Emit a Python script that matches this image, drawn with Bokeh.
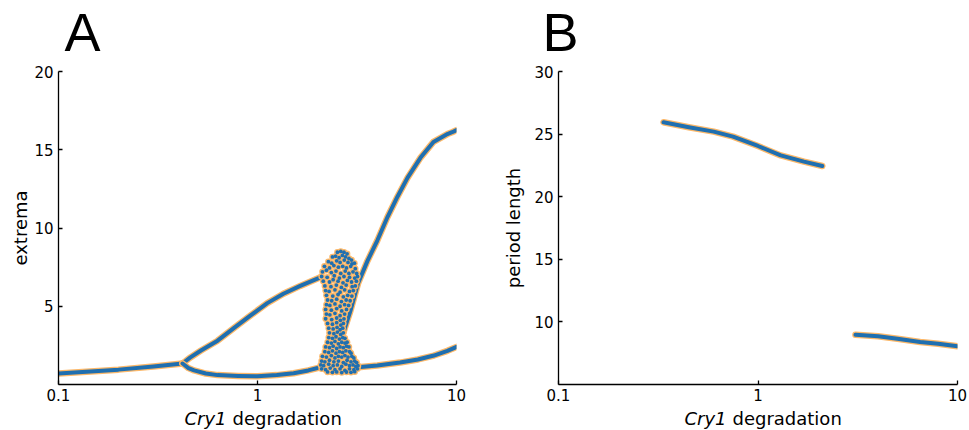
from bokeh.plotting import figure
from bokeh.layouts import row, column
from bokeh.models import Range1d, FixedTicker, CustomJSTickFormatter, Label
from bokeh.embed import file_html
from bokeh.resources import INLINE

# ---------------- data ----------------
# Panel A: extrema vs Cry1 degradation
steady_x = [0.1, 0.2, 0.3, 0.42]
steady_y = [0.7, 0.95, 1.15, 1.34]

left_max_x = [0.42, 0.46, 0.52, 0.63, 0.76, 0.92, 1.12, 1.35, 1.64, 2.07]
left_max_y = [1.34, 1.73, 2.17, 2.8, 3.6, 4.4, 5.2, 5.8, 6.3, 6.85]

left_min_x = [0.42, 0.45, 0.48, 0.55, 0.63, 0.8, 1.0, 1.25, 1.52, 1.8, 2.07]
left_min_y = [1.34, 1.05, 0.9, 0.7, 0.6, 0.55, 0.53, 0.6, 0.72, 0.9, 1.1]

right_max_x = [2.7, 2.93, 3.2, 3.57, 4.0, 4.5, 5.05, 5.67, 6.6, 7.66, 9.0, 9.5, 10.0]
right_max_y = [3.3, 4.7, 6.45, 7.9, 9.2, 10.7, 12.0, 13.2, 14.5, 15.5, 16.0, 16.12, 16.25]

right_min_x = [3.2, 4.0, 5.2, 6.4, 7.7, 9.0, 10.0]
right_min_y = [1.1, 1.22, 1.4, 1.6, 1.85, 2.15, 2.4]

cluster_pts = [
    (2.52, 8.45), (2.62, 8.5), (2.72, 8.45), (2.82, 8.35),
    (2.38, 8.15), (2.47, 8.2), (2.57, 8.1), (2.67, 8.25), (2.77, 8.15), (2.88, 8.05), (2.97, 7.95),
    (2.27, 7.85), (2.36, 7.75), (2.5, 7.9), (2.6, 7.8), (2.73, 7.95), (2.85, 7.8), (2.98, 7.7), (3.07, 7.75),
    (2.17, 7.55), (2.3, 7.45), (2.42, 7.6), (2.55, 7.5), (2.68, 7.55), (2.8, 7.45), (2.94, 7.55), (3.1, 7.4),
    (2.12, 7.2), (2.22, 7.3), (2.35, 7.15), (2.48, 7.25), (2.62, 7.1), (2.76, 7.25), (2.88, 7.1), (3.02, 7.2), (3.15, 7.1),
    (2.1, 6.9), (2.24, 6.85), (2.43, 6.95), (2.58, 6.8), (2.72, 6.9), (2.9, 6.85), (3.08, 6.8), (3.18, 6.9),
    (2.14, 6.6), (2.3, 6.55), (2.4, 6.7), (2.54, 6.6), (2.69, 6.5), (2.83, 6.65), (2.97, 6.55), (3.14, 6.6),
    (2.18, 6.3), (2.34, 6.25), (2.49, 6.35), (2.64, 6.2), (2.79, 6.35), (2.99, 6.25), (3.1, 6.3),
    (2.2, 6.0), (2.29, 5.95), (2.45, 6.05), (2.6, 5.9), (2.74, 6.05), (2.9, 5.95), (3.03, 6.0),
    (2.22, 5.7), (2.39, 5.65), (2.54, 5.75), (2.7, 5.6), (2.84, 5.7), (2.98, 5.65),
    (2.25, 5.4), (2.36, 5.35), (2.5, 5.45), (2.64, 5.3), (2.79, 5.4), (2.92, 5.35),
    (2.22, 5.1), (2.31, 5.05), (2.45, 5.15), (2.6, 5.0), (2.74, 5.1), (2.87, 5.05),
    (2.2, 4.8), (2.35, 4.75), (2.5, 4.85), (2.65, 4.7), (2.8, 4.8),
    (2.22, 4.5), (2.31, 4.45), (2.45, 4.55), (2.6, 4.4), (2.74, 4.5),
    (2.2, 4.2), (2.36, 4.15), (2.5, 4.25), (2.61, 4.1), (2.72, 4.2),
    (2.25, 3.9), (2.38, 3.85), (2.5, 3.95), (2.62, 3.8), (2.7, 3.9),
    (2.28, 3.6), (2.4, 3.55), (2.51, 3.65), (2.6, 3.5), (2.68, 3.6),
    (2.3, 3.3), (2.42, 3.25), (2.52, 3.35), (2.62, 3.2), (2.7, 3.3),
    (2.28, 3.0), (2.38, 2.95), (2.48, 3.05), (2.58, 2.9), (2.68, 3.0), (2.75, 2.95),
    (2.25, 2.7), (2.35, 2.65), (2.45, 2.75), (2.55, 2.6), (2.65, 2.7), (2.75, 2.65), (2.82, 2.7),
    (2.2, 2.4), (2.3, 2.35), (2.4, 2.45), (2.5, 2.3), (2.6, 2.4), (2.7, 2.35), (2.8, 2.45), (2.88, 2.4),
    (2.18, 2.1), (2.28, 2.05), (2.38, 2.15), (2.48, 2.0), (2.58, 2.1), (2.68, 2.05), (2.78, 2.15), (2.9, 2.1), (2.95, 2.0),
    (2.12, 1.8), (2.22, 1.75), (2.35, 1.85), (2.45, 1.7), (2.55, 1.8), (2.65, 1.75), (2.75, 1.85), (2.85, 1.75), (2.98, 1.8), (3.05, 1.7),
    (2.1, 1.5), (2.18, 1.45), (2.3, 1.55), (2.42, 1.45), (2.55, 1.5), (2.7, 1.4), (2.82, 1.55), (2.95, 1.45), (3.08, 1.5), (3.15, 1.4),
    (2.08, 1.25), (2.15, 1.2), (2.28, 1.3), (2.4, 1.2), (2.52, 1.25), (2.65, 1.15), (2.78, 1.3), (2.9, 1.2), (3.02, 1.25), (3.12, 1.15), (3.2, 1.2),
    (2.1, 1.0), (2.2, 0.95), (2.32, 1.05), (2.45, 0.95), (2.6, 1.0), (2.75, 0.9), (2.9, 1.0), (3.05, 0.95), (3.18, 1.0),
    (2.25, 0.8), (2.38, 0.78), (2.5, 0.8), (2.65, 0.76), (2.8, 0.8), (2.95, 0.78), (3.08, 0.82),
]
cluster_x = [p[0] for p in cluster_pts]
cluster_y = [p[1] for p in cluster_pts]

# Panel B: period length vs Cry1 degradation
period1_x = [0.336, 0.45, 0.6, 0.75, 1.0, 1.3, 1.7, 2.1]
period1_y = [25.95, 25.55, 25.2, 24.8, 24.05, 23.3, 22.8, 22.45]

period2_x = [3.08, 4.0, 5.0, 6.5, 8.0, 10.0]
period2_y = [8.97, 8.85, 8.65, 8.4, 8.25, 8.05]

x_ticks = [0.1, 1, 10]
a_yticks = [5, 10, 15, 20]
b_yticks = [10, 15, 20, 25, 30]

BLUE = "#1f6fb0"
ORANGE = "#fbb86a"
FONT = "DejaVu Sans"


def style(p, yticks, standoff):
    p.xaxis.ticker = FixedTicker(ticks=x_ticks)
    p.xaxis.formatter = CustomJSTickFormatter(code="return tick.toString()")
    p.yaxis.ticker = FixedTicker(ticks=yticks)
    for ax in (p.xaxis, p.yaxis):
        ax.major_tick_in = 4
        ax.major_tick_out = 0
        ax.minor_tick_line_color = None
        ax.major_label_text_font = FONT
        ax.major_label_text_font_size = "15px"
        ax.major_label_text_color = "black"
        ax.axis_line_color = "black"
        ax.axis_line_width = 1.3
        ax.major_tick_line_color = "black"
        ax.major_tick_line_width = 1.3
        ax.axis_label_text_font = FONT
        ax.axis_label_text_font_size = "18px"
        ax.axis_label_text_font_style = "normal"
        ax.axis_label_text_color = "black"
    p.xaxis.major_label_standoff = 4
    p.yaxis.major_label_standoff = 5
    p.yaxis.axis_label_standoff = standoff
    p.xgrid.visible = False
    p.ygrid.visible = False
    p.outline_line_color = None


def blank(width, height, x0, x1):
    # frame spans canvas pixels x0..x1 (aligned with the plot above), y measured from top
    f = figure(width=width, height=height, output_backend="svg", toolbar_location=None,
               title=None, x_range=Range1d(x0, x1), y_range=Range1d(height, 0),
               x_axis_location=None, y_axis_location=None, min_border=0)
    f.xgrid.visible = False
    f.ygrid.visible = False
    f.outline_line_color = None
    return f


def footer(width, x0, x1, xcenter):
    f = blank(width, 24, x0, x1)
    f.add_layout(Label(x=xcenter - 31, y=12, text="Cry1", text_font=FONT, text_font_size="18px",
                       text_font_style="italic", text_align="right", text_baseline="alphabetic",
                       text_color="black"))
    f.add_layout(Label(x=xcenter - 25, y=12, text="degradation", text_font=FONT,
                       text_font_size="18px", text_align="left", text_baseline="alphabetic",
                       text_color="black"))
    return f


def curve(p, xs, ys):
    p.line(xs, ys, line_color=ORANGE, line_width=6.5, line_cap="round", line_join="round")
    p.line(xs, ys, line_color=BLUE, line_width=4, line_cap="round", line_join="round")


# ---------------- header with panel letters ----------------
head = figure(width=969, height=64, output_backend="svg", toolbar_location=None, title=None,
              x_range=Range1d(0, 969), y_range=Range1d(64, 0),
              x_axis_location=None, y_axis_location=None, min_border=0)
head.xgrid.visible = False
head.ygrid.visible = False
head.outline_line_color = None
for letter, xpos in [("A", 64), ("B", 542)]:
    head.add_layout(Label(x=xpos, y=31, text=letter, text_font="Liberation Sans",
                          text_font_size="54px", text_baseline="alphabetic", text_color="black"))

# ---------------- Panel A ----------------
pA = figure(width=484, height=342, x_axis_type="log", output_backend="svg",
            toolbar_location=None, x_range=Range1d(0.1, 10), y_range=Range1d(0, 20),
            min_border_left=58, min_border_right=28, min_border_top=7, min_border_bottom=22)
style(pA, a_yticks, 0)
pA.yaxis.axis_label = "extrema"

for xs, ys in [(steady_x, steady_y), (left_max_x, left_max_y), (left_min_x, left_min_y),
               (right_max_x, right_max_y), (right_min_x, right_min_y)]:
    curve(pA, xs, ys)
pA.scatter(cluster_x, cluster_y, size=6.5, fill_color=ORANGE, line_color=None)
pA.scatter(cluster_x, cluster_y, size=3.8, fill_color=BLUE, line_color=None)

colA = column(pA, footer(484, 58, 456, 257))

# ---------------- Panel B ----------------
pB = figure(width=485, height=342, x_axis_type="log", output_backend="svg",
            toolbar_location=None, x_range=Range1d(0.1, 10), y_range=Range1d(5, 30),
            min_border_left=74, min_border_right=12, min_border_top=7, min_border_bottom=22)
style(pB, b_yticks, 7)
pB.yaxis.axis_label = "period length"
curve(pB, period1_x, period1_y)
curve(pB, period2_x, period2_y)

colB = column(pB, footer(485, 74, 473, 273))

layout = column(head, row(colA, colB))
open("out.html", "w").write(file_html(layout, INLINE))
